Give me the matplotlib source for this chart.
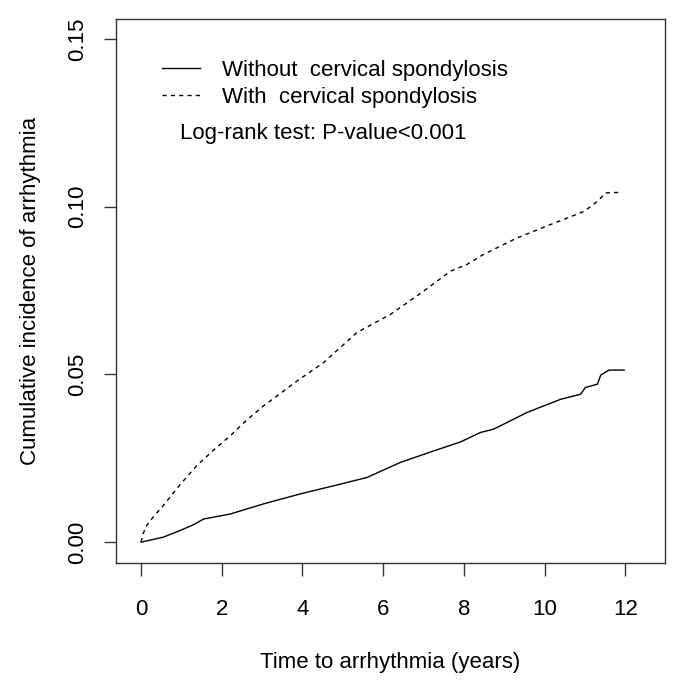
import matplotlib
matplotlib.use("Agg")
import matplotlib.pyplot as plt

plt.rcParams['font.family'] = ['Liberation Sans', 'DejaVu Sans']

# years vs cumulative incidence
t_with = [0, 0.05, 0.14, 0.3, 0.55, 0.97, 1.38, 1.8, 2.21, 2.6, 3.03, 3.45, 3.86, 4.52,
          5.35, 6.18, 7.0, 7.67, 8.08, 8.49, 9.32, 10.15, 10.98, 11.31, 11.51, 11.93]
v_with = [0, 0.0025, 0.005, 0.0075, 0.0109, 0.0172, 0.0228, 0.0275, 0.0317, 0.0362, 0.0406,
          0.0443, 0.048, 0.0535, 0.0625, 0.0679, 0.0748, 0.0808, 0.0828, 0.0858, 0.0907,
          0.0947, 0.0986, 0.1016, 0.1041, 0.1043]

t_without = [0, 0.55, 0.97, 1.3, 1.55, 2.21, 3.03, 3.95, 4.94, 5.6, 6.43, 7.25, 7.92,
             8.41, 8.74, 9.57, 10.4, 10.89, 11.01, 11.31, 11.39, 11.6, 11.97]
v_without = [0, 0.0015, 0.0035, 0.0052, 0.0069, 0.0084, 0.0114, 0.0144, 0.0173, 0.0193,
             0.0238, 0.0272, 0.0299, 0.0327, 0.0337, 0.0387, 0.0426, 0.0441, 0.0461,
             0.0471, 0.0498, 0.0513, 0.0513]

x_ticks = [0, 2, 4, 6, 8, 10, 12]
y_ticks = [0.00, 0.05, 0.10, 0.15]
y_labels = ['0.00', '0.05', '0.10', '0.15']

fig = plt.figure(figsize=(6.75, 6.81), dpi=100)
ax = fig.add_axes([0.1719, 0.1728, 0.8131, 0.7986])

ax.plot(t_without, v_without, color='black', lw=1.0, label='Without  cervical spondylosis')
ax.plot(t_with, v_with, color='black', lw=1.0, linestyle=(0, (3, 3)),
        label='With  cervical spondylosis')

ax.set_xlim(-0.62, 12.98)
ax.set_ylim(-0.0063, 0.1558)

ax.set_xticks(x_ticks)
ax.set_yticks(y_ticks)
ax.set_yticklabels(y_labels, rotation=90, va='center')
ax.tick_params(axis='both', direction='out', length=9, width=1, color='#333333',
               labelsize=16)
ax.tick_params(axis='x', pad=17)
ax.tick_params(axis='y', pad=11)
for s in ax.spines.values():
    s.set_color('#333333')
    s.set_linewidth(1.0)

ax.set_xlabel('Time to arrhythmia (years)', fontsize=16, labelpad=23)
ax.set_ylabel('Cumulative incidence of arrhythmia', fontsize=16, labelpad=19)

ax.legend(loc='upper left', bbox_to_anchor=(0.084, 0.925), frameon=False, fontsize=16,
          handlelength=1.7, handletextpad=1.0, labelspacing=0.27, borderaxespad=0,
          borderpad=0)
ax.text(0.1166, 0.79, 'Log-rank test: P-value<0.001', transform=ax.transAxes,
        fontsize=16, va='center', ha='left')

fig.savefig('out.png', dpi=100)
